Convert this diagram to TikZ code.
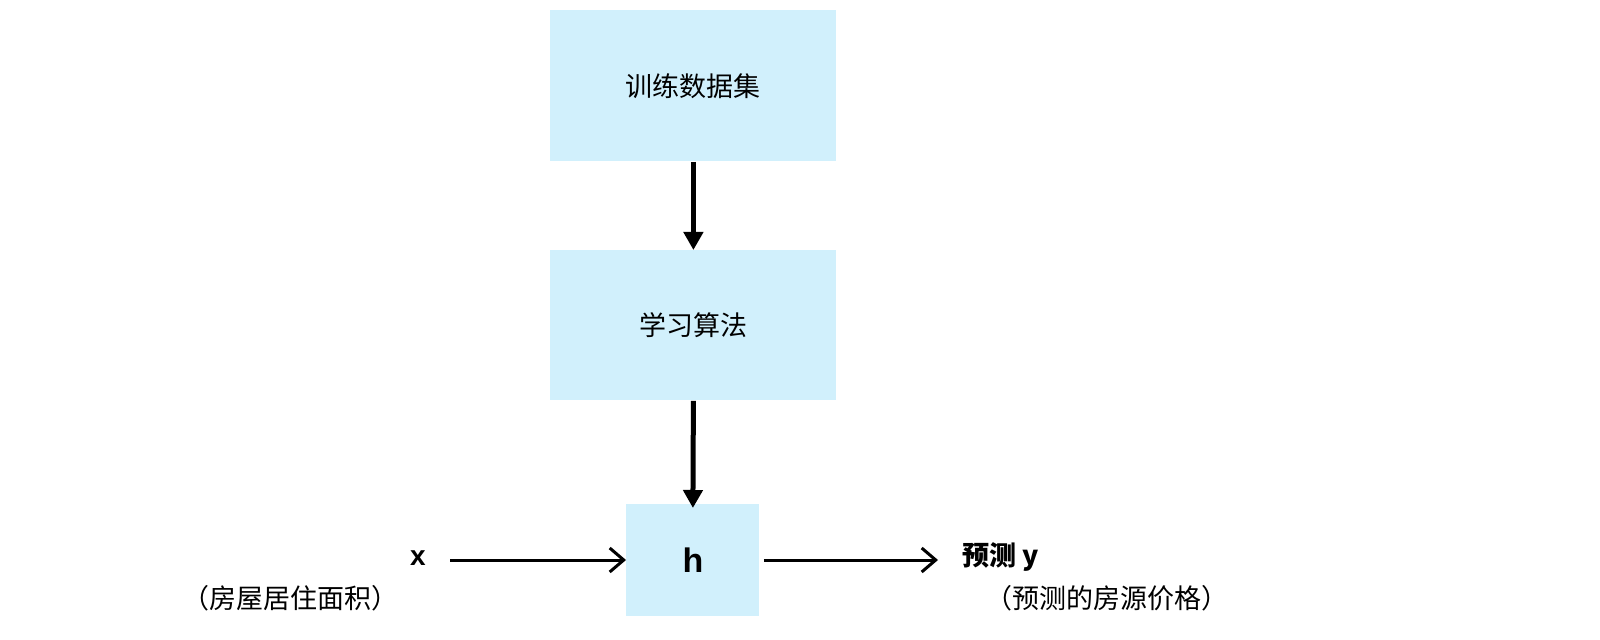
\documentclass[tikz,border=0pt]{standalone}
\usepackage{fontspec}
\setmainfont{Liberation Sans}
\newfontfamily\cjk{Noto Sans CJK SC}
\usetikzlibrary{arrows.meta}
\begin{document}
\begin{tikzpicture}[x=0.5pt,y=-0.5pt,
  box/.style={fill=cyan!18!white,draw=none,inner sep=0,anchor=north west},
  lbl/.style={font=\cjk\fontsize{13.5}{16}\selectfont,inner sep=0},
  thick arr/.style={line width=2.5pt,-{Triangle[length=9pt,width=9.5pt]}},
  thin arr/.style={line width=1.5pt,-{Straight Barb[length=7pt,width=12pt,line width=1.5pt]}}]
\useasboundingbox (0,0) rectangle (1600,640);
\node[box,minimum width=143pt,minimum height=75.5pt] (b1) at (550,10) {};
\node[lbl] (t1) at (b1.center) {训练数据集};
\node[box,minimum width=143pt,minimum height=75pt] (b2) at (550,250) {};
\node[lbl] (t2) at (b2.center) {学习算法};
\node[box,minimum width=66.5pt,minimum height=56pt] (h) at (626,504) {};
\node[font=\bfseries\fontsize{17}{19}\selectfont,inner sep=0] (ht) at (h.center) {h};
\node[font=\bfseries\fontsize{14}{16}\selectfont,inner sep=0] (x) at (418,558) {x};
\node[lbl] (xl) at (290,598) {（房屋居住面积）};
\node[lbl,font=\cjk\bfseries\fontsize{13.5}{16}\selectfont,anchor=west] (y) at (962,557) {预测 y};
\node[lbl] (yl) at (1107,598) {（预测的房源价格）};
\coordinate (xs) at (450,560);
\coordinate (ye) at (938,560);
\draw[thick arr] (b1.south) -- (b2.north);
\draw[thick arr] (b2.south) -- ([yshift=-2pt]h.north);
\draw[thin arr] (xs) -- (h.west |- xs);
\draw[thin arr] ([xshift=2pt]h.east |- ye) -- (ye);
\end{tikzpicture}
\end{document}
